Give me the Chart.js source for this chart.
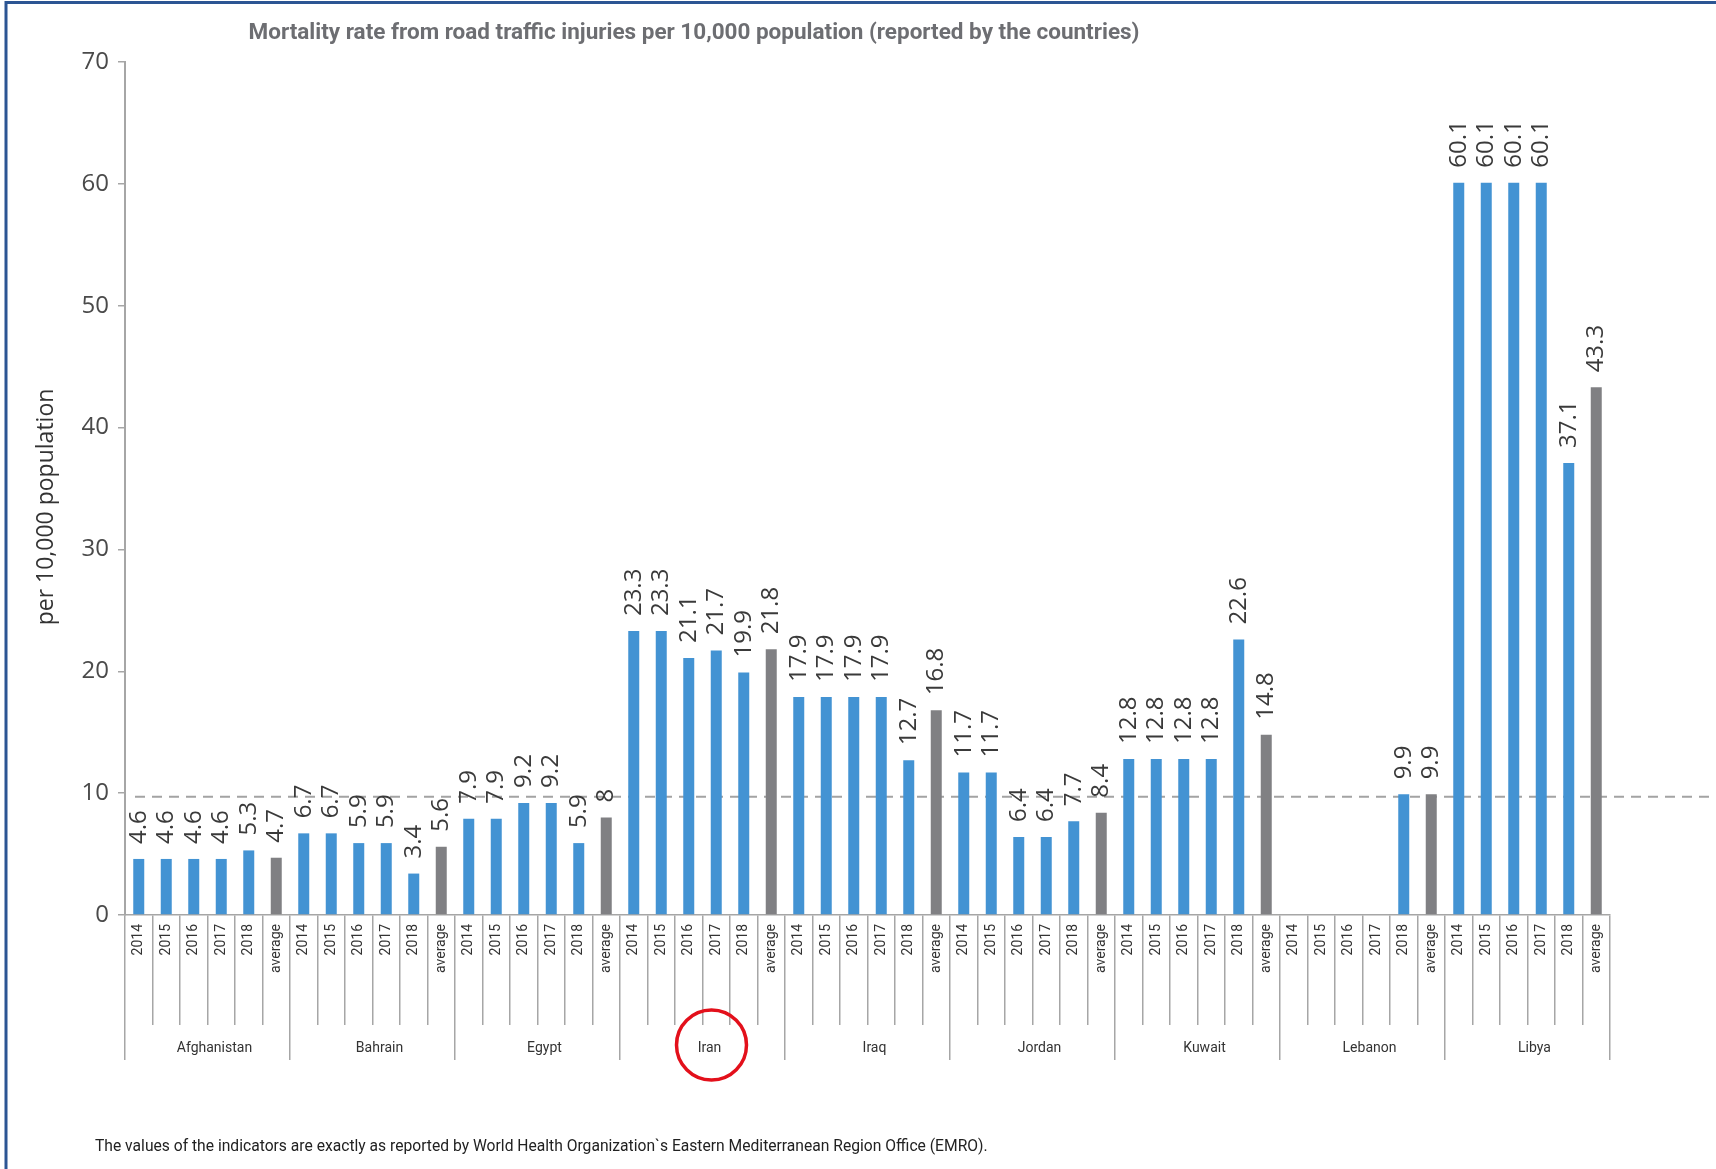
<!DOCTYPE html>
<html>
<head>
<meta charset="utf-8">
<script src="https://cdn.jsdelivr.net/npm/chart.js@4.4.1/dist/chart.umd.min.js"></script>
<style>
html,body{margin:0;padding:0;background:#ffffff;}
canvas{display:block;}
</style>
</head>
<body>
<canvas id="c" width="1716" height="1169"></canvas>
<script>
// ---------- data ----------
const titleText = 'Mortality rate from road traffic injuries per 10,000 population (reported by the countries)';
const yAxisTitle = 'per 10,000 population';
const footnoteText = 'The values of the indicators are exactly as reported by World Health Organization`s Eastern Mediterranean Region Office (EMRO).';
const countries = ['Afghanistan', 'Bahrain', 'Egypt', 'Iran', 'Iraq', 'Jordan', 'Kuwait', 'Lebanon', 'Libya'];
const periods = ['2014', '2015', '2016', '2017', '2018', 'average'];
const afghanistan = [4.6, 4.6, 4.6, 4.6, 5.3, 4.7];
const bahrain = [6.7, 6.7, 5.9, 5.9, 3.4, 5.6];
const egypt = [7.9, 7.9, 9.2, 9.2, 5.9, 8];
const iran = [23.3, 23.3, 21.1, 21.7, 19.9, 21.8];
const iraq = [17.9, 17.9, 17.9, 17.9, 12.7, 16.8];
const jordan = [11.7, 11.7, 6.4, 6.4, 7.7, 8.4];
const kuwait = [12.8, 12.8, 12.8, 12.8, 22.6, 14.8];
const lebanon = [null, null, null, null, 9.9, 9.9];
const libya = [60.1, 60.1, 60.1, 60.1, 37.1, 43.3];
const referenceLevel = 9.7;
const yMin = 0, yMax = 70, yStep = 10;
const highlightedCountry = 'Iran';

// ---------- build ----------
const seriesByCountry = [afghanistan, bahrain, egypt, iran, iraq, jordan, kuwait, lebanon, libya];
const xLabels = [];
const values = [];
const barColors = [];
const BLUE = '#4393d3', GREY = '#808083';
seriesByCountry.forEach(arr => {
  arr.forEach((v, i) => {
    xLabels.push(periods[i]);
    values.push(v);
    barColors.push(periods[i] === 'average' ? GREY : BLUE);
  });
});

const AXIS_COL = '#a6a6a6';

const overlay = {
  id: 'overlay',
  beforeDatasetsDraw(chart) {
    const {ctx, chartArea} = chart;
    const y = chart.scales.y.getPixelForValue(referenceLevel);
    ctx.save();
    ctx.strokeStyle = '#a3a3a3';
    ctx.lineWidth = 2;
    ctx.setLineDash([10, 7]);
    ctx.beginPath();
    ctx.moveTo(chartArea.left + 10, y);
    ctx.lineTo(chart.width, y);
    ctx.stroke();
    ctx.restore();
  },
  afterDatasetsDraw(chart) {
    const {ctx} = chart;
    const meta = chart.getDatasetMeta(0);
    const data = chart.data.datasets[0].data;
    ctx.save();
    ctx.fillStyle = '#3a3a3a';
    ctx.font = '24px "Open Sans"';
    ctx.textAlign = 'left';
    ctx.textBaseline = 'middle';
    meta.data.forEach((el, i) => {
      const v = data[i];
      if (v === null || v === undefined) return;
      ctx.save();
      ctx.translate(el.x, el.y - 15);
      ctx.rotate(-Math.PI / 2);
      ctx.fillText(String(v), 0, 0);
      ctx.restore();
    });
    ctx.restore();
  },
  afterDraw(chart) {
    const {ctx} = chart;
    ctx.save();
    // title
    let size = 21;
    ctx.font = 'bold ' + size + 'px Roboto';
    let w = ctx.measureText(titleText).width;
    size = size * 891 / w;
    ctx.font = 'bold ' + size.toFixed(2) + 'px Roboto';
    ctx.fillStyle = '#6d6e72';
    ctx.textAlign = 'center';
    ctx.textBaseline = 'middle';
    ctx.fillText(titleText, 694, 33);
    // y axis title
    ctx.save();
    ctx.font = '23px "Open Sans"';
    ctx.fillStyle = '#333333';
    ctx.translate(46, 507);
    ctx.rotate(-Math.PI / 2);
    ctx.fillText(yAxisTitle, 0, 0);
    ctx.restore();
    // footnote
    size = 15;
    ctx.font = size + 'px Roboto';
    w = ctx.measureText(footnoteText).width;
    size = size * 893 / w;
    ctx.font = size.toFixed(2) + 'px Roboto';
    ctx.fillStyle = '#222222';
    ctx.textAlign = 'left';
    ctx.fillText(footnoteText, 95, 1147);
    // highlight circle around country label
    const x2 = chart.scales.x2;
    const idx = countries.indexOf(highlightedCountry);
    const cx = x2.getPixelForTick(idx) + 9;
    const cy = x2.top + 20;
    ctx.strokeStyle = '#e3101b';
    ctx.lineWidth = 3.5;
    ctx.beginPath();
    ctx.arc(cx, cy, 35, 0, Math.PI * 2);
    ctx.stroke();
    // frame
    ctx.strokeStyle = '#2c5593';
    ctx.lineWidth = 3;
    ctx.beginPath();
    ctx.moveTo(6, chart.height);
    ctx.lineTo(6, 2.5);
    ctx.lineTo(chart.width, 2.5);
    ctx.stroke();
    ctx.restore();
  }
};

new Chart(document.getElementById('c'), {
  type: 'bar',
  data: {
    labels: xLabels,
    datasets: [{
      data: values,
      backgroundColor: barColors,
      borderWidth: 0,
      barPercentage: 0.4,
      categoryPercentage: 1.0
    }]
  },
  options: {
    responsive: false,
    animation: false,
    devicePixelRatio: 1,
    layout: { padding: { left: 0, right: 106, top: 62, bottom: 109 } },
    plugins: {
      legend: { display: false },
      tooltip: { enabled: false },
      title: { display: false }
    },
    scales: {
      x: {
        type: 'category',
        position: 'bottom',
        offset: true,
        weight: 0,
        grid: { display: true, offset: true, drawOnChartArea: false, drawTicks: true, tickLength: 110, color: AXIS_COL, lineWidth: 1.5 },
        border: { display: true, color: AXIS_COL, width: 1.5 },
        ticks: {
          autoSkip: false, minRotation: 90, maxRotation: 90,
          padding: -101,
          font: { family: 'Roboto', size: 14 },
          color: '#333333'
        },
        afterFit: s => { s.height = 110; }
      },
      x2: {
        type: 'category',
        position: 'bottom',
        labels: countries,
        offset: true,
        weight: 1,
        grid: { display: true, offset: true, drawOnChartArea: false, drawTicks: true, tickLength: 35, color: AXIS_COL, lineWidth: 1.5 },
        border: { display: false },
        ticks: {
          autoSkip: false, minRotation: 0, maxRotation: 0,
          padding: -20,
          labelOffset: 7,
          font: { family: 'Roboto', size: 14 },
          color: '#333333'
        },
        afterFit: s => { s.height = 35; }
      },
      y: {
        min: yMin, max: yMax,
        ticks: { stepSize: yStep, padding: 9, font: { family: 'Open Sans', size: 24 }, color: '#4a4a4a' },
        grid: { display: true, drawOnChartArea: false, drawTicks: true, tickLength: 7, color: AXIS_COL, lineWidth: 1.5 },
        border: { display: true, color: AXIS_COL, width: 2 },
        title: { display: false, text: yAxisTitle },
        afterFit: s => { s.width = 125; }
      }
    }
  },
  plugins: [overlay]
});
</script>
</body>
</html>
